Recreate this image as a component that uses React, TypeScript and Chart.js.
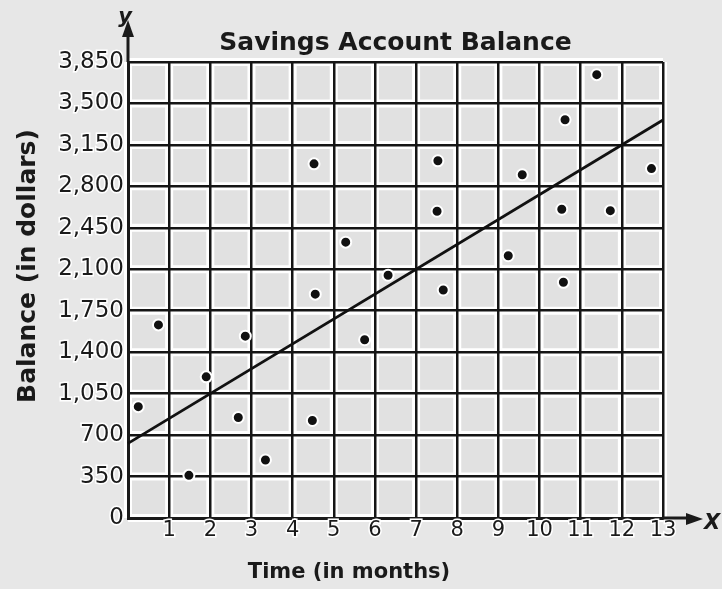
import { useEffect, useRef } from "react";
import { Chart, registerables } from "chart.js";

Chart.register(...registerables);

// ---- data ----
const months = [0.25, 0.74, 1.48, 1.9, 2.68, 2.85, 3.34, 4.48, 4.52, 4.55, 5.29, 5.75, 6.32, 7.51, 7.53, 7.66, 9.24, 9.58, 10.54, 10.58, 10.62, 11.39, 11.72, 12.72];
const balances = [940, 1630, 360, 1192, 849, 1535, 490, 823, 2990, 1890, 2329, 1505, 2050, 2590, 3016, 1925, 2214, 2898, 2607, 1990, 3362, 3743, 2595, 2950];
const trendMonths = [0, 13];
const trendBalances = [630, 3360];
const xTickValues = [0, 1, 2, 3, 4, 5, 6, 7, 8, 9, 10, 11, 12, 13];
const yTickValues = [0, 350, 700, 1050, 1400, 1750, 2100, 2450, 2800, 3150, 3500, 3850];
const chartTitle = "Savings Account Balance";
const xTitle = "Time (in months)";
const yTitle = "Balance (in dollars)";
const xLetter = "X";
const yLetter = "y";

const PAGE_BG = "#e7e7e7";
const CELL_BG = "#e1e1e1";
const INK = "#1a1a1a";
const FONT = "'DejaVu Sans', Verdana, sans-serif";

const decorPlugin = {
  id: "decor",
  beforeDraw(chart: any) {
    const { ctx, chartArea: a, scales } = chart;
    ctx.save();
    ctx.fillStyle = CELL_BG;
    ctx.fillRect(a.left, a.top, a.right - a.left, a.bottom - a.top);
    ctx.strokeStyle = "#ffffff";
    ctx.lineWidth = 8;
    ctx.beginPath();
    for (const t of scales.x.ticks) {
      const px = scales.x.getPixelForValue(t.value);
      ctx.moveTo(px, a.top);
      ctx.lineTo(px, a.bottom);
    }
    for (const t of scales.y.ticks) {
      const py = scales.y.getPixelForValue(t.value);
      ctx.moveTo(a.left, py);
      ctx.lineTo(a.right, py);
    }
    ctx.stroke();
    ctx.restore();
  },
  afterDraw(chart: any) {
    const { ctx, chartArea: a } = chart;
    ctx.save();
    ctx.strokeStyle = INK;
    ctx.fillStyle = INK;
    ctx.lineWidth = 3;
    // y axis arrow
    const x0 = a.left;
    ctx.beginPath();
    ctx.moveTo(x0, a.top);
    ctx.lineTo(x0, 32);
    ctx.stroke();
    ctx.beginPath();
    ctx.moveTo(x0, 20);
    ctx.lineTo(x0 - 6, 37);
    ctx.lineTo(x0 + 6, 37);
    ctx.closePath();
    ctx.fill();
    // x axis arrow
    const y0 = a.bottom;
    ctx.beginPath();
    ctx.moveTo(a.right, y0);
    ctx.lineTo(690, y0);
    ctx.stroke();
    ctx.beginPath();
    ctx.moveTo(703, y0 + 1);
    ctx.lineTo(686, y0 - 5);
    ctx.lineTo(686, y0 + 7);
    ctx.closePath();
    ctx.fill();
    // letters
    ctx.textAlign = "center";
    ctx.textBaseline = "middle";
    ctx.font = `italic bold 21px ${FONT}`;
    ctx.fillText(yLetter, x0 - 3, 18);
    ctx.fillText(xLetter, 712, y0 + 6);
    // axis titles
    ctx.font = `bold 21px ${FONT}`;
    ctx.fillText(xTitle, 349, 573);
    ctx.save();
    ctx.translate(28, 266);
    ctx.rotate(-Math.PI / 2);
    ctx.font = `bold 25px ${FONT}`;
    ctx.fillText(yTitle, 0, 0);
    ctx.restore();
    ctx.restore();
  },
};

export default function App() {
  const ref = useRef<HTMLCanvasElement>(null);
  useEffect(() => {
    if (!ref.current) return;
    const chart = new Chart(ref.current, {
      type: "scatter",
      data: {
        datasets: [
          {
            label: "Balance",
            data: months.map((m, i) => ({ x: m, y: balances[i] })),
            backgroundColor: "#111111",
            borderColor: "#ffffff",
            borderWidth: 2,
            pointRadius: 5.5,
            pointHoverRadius: 5.5,
          },
          {
            label: "Trend",
            type: "line",
            data: trendMonths.map((m, i) => ({ x: m, y: trendBalances[i] })),
            borderColor: "#111111",
            borderWidth: 2.8,
            pointRadius: 0,
            showLine: true,
            fill: false,
            clip: false,
          } as any,
        ],
      },
      options: {
        animation: false,
        responsive: false,
        events: [],
        layout: { padding: { left: 0, right: 59, top: 0, bottom: 0 } },
        plugins: {
          legend: { display: false },
          tooltip: { enabled: false },
          title: {
            display: true,
            text: chartTitle,
            fullSize: false,
            color: INK,
            font: { family: FONT, size: 25, weight: "bold" },
            padding: { top: 28, bottom: 4 },
          },
        },
        scales: {
          x: {
            type: "linear",
            min: 0,
            max: 13,
            afterBuildTicks: (s: any) => {
              s.ticks = xTickValues.map((v) => ({ value: v }));
            },
            afterFit: (s: any) => {
              s.height = 71;
            },
            ticks: {
              color: INK,
              font: { family: FONT, size: 21 },
              padding: 0,
              textStrokeColor: "#ffffff",
              textStrokeWidth: 3,
              callback: (v: any) => (v === 0 ? "" : String(v)),
            },
            grid: { color: "#151515", lineWidth: 2.5, drawTicks: false },
            border: { color: INK, width: 3 },
          },
          y: {
            type: "linear",
            min: 0,
            max: 3850,
            afterBuildTicks: (s: any) => {
              s.ticks = yTickValues.map((v) => ({ value: v }));
            },
            afterFit: (s: any) => {
              s.width = 128;
            },
            ticks: {
              color: INK,
              font: { family: FONT, size: 23 },
              padding: 4,
              textStrokeColor: "#ffffff",
              textStrokeWidth: 3,
              callback: (v: any) => Number(v).toLocaleString("en-US"),
            },
            grid: { color: "#151515", lineWidth: 2.5, drawTicks: false },
            border: { color: INK, width: 3 },
          },
        },
      },
      plugins: [decorPlugin],
    } as any);
    return () => chart.destroy();
  }, []);
  return (
    <div style={{ position: "absolute", left: 0, top: 0, width: 722, height: 589, background: PAGE_BG }}>
      <canvas ref={ref} width={722} height={589} style={{ display: "block" }} />
    </div>
  );
}
